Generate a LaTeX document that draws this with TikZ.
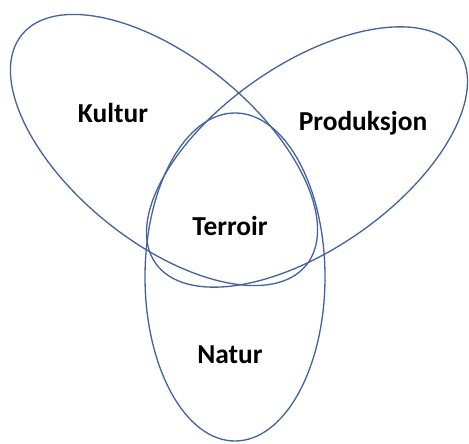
\documentclass[tikz,border=0pt]{standalone}
\usepackage{fontspec}
\setmainfont{Carlito}
\usepackage{pgf, tikz}
\usetikzlibrary{positioning}

\definecolor{ringblue}{RGB}{68,98,160}

\begin{document}
\begin{tikzpicture}[x=0.02cm, y=0.02cm]
\useasboundingbox (0,0) rectangle (469,443);

% the three rings
\draw[ringblue, line width=0.75pt, rotate around={-39:(164,293)}] 
  (164,293) ellipse [x radius=183, y radius=92];
\draw[ringblue, line width=0.75pt, rotate around={35:(307,286)}] 
  (307,286) ellipse [x radius=185, y radius=92];
\draw[ringblue, line width=0.75pt] 
  (235,166) ellipse [x radius=90, y radius=164];

% labels
\node[anchor=base, font=\fontsize{15.6}{18}\selectfont\bfseries] (kultur) at (113,320) {Kultur};
\node[anchor=base, font=\fontsize{15.6}{18}\selectfont\bfseries] (produksjon) at (363,312) {Produksjon};
\node[anchor=base, font=\fontsize{15.6}{18}\selectfont\bfseries] (terroir) at (230,208) {Terroir};
\node[anchor=base, font=\fontsize{15.6}{18}\selectfont\bfseries] (natur) at (230,80) {Natur};
\end{tikzpicture}
\end{document}
